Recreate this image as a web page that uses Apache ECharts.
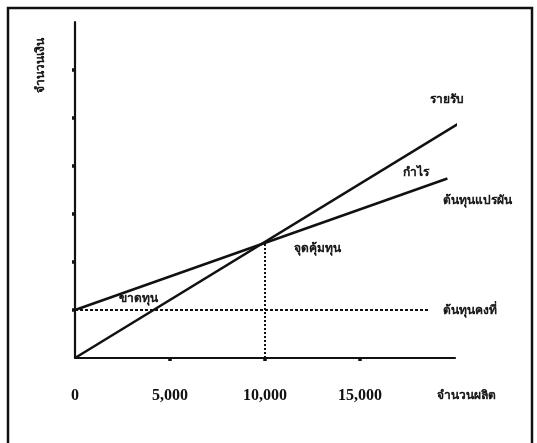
<!DOCTYPE html>
<html>
<head>
<meta charset="utf-8">
<script src="https://cdn.jsdelivr.net/npm/echarts@6/dist/echarts.min.js"></script>
<style>
html,body{margin:0;padding:0;background:#fff;}
#c{width:537px;height:443px;}
</style>
</head>
<body>
<div id="c"></div>
<script>
// Data (units on y: money steps; x: production quantity)
const xTickValues = [0, 5000, 10000, 15000];
const xTickLabels = ['0', '5,000', '10,000', '15,000'];
const yTickValues = [1, 2, 3, 4, 5, 6];
const revenue = [[0, 0], [20250, 4.9]];
const totalCost = [[0, 1], [19600, 3.74]];
const fixedCost = [[0, 1], [18600, 1]];
const breakEven = [[10000, 0], [10000, 2.4]];
const xAxisTitle = 'จำนวนผลิต';
const yAxisTitle = 'จำนวนเงิน';
const labelRevenue = 'รายรับ';
const labelProfit = 'กำไร';
const labelTotalCost = 'ต้นทุนแปรผัน';
const labelBreakEven = 'จุดคุ้มทุน';
const labelLoss = 'ขาดทุน';
const labelFixed = 'ต้นทุนคงที่';

const FONT = '"Liberation Serif", "DejaVu Serif", serif';
const chart = echarts.init(document.getElementById('c'));
const txt = (text, x, y, extra) => Object.assign({
  type: 'text', x: x, y: y,
  style: Object.assign({ text: text, fill: '#111', stroke: '#111', lineWidth: 0.6, font: 'bold 14px ' + FONT, align: 'center', verticalAlign: 'middle' }, extra || {})
});
chart.setOption({
  animation: false,
  backgroundColor: '#fff',
  grid: { left: 75, right: 82, top: 22, bottom: 85 },
  xAxis: {
    type: 'value', min: 0, max: 20000,
    splitLine: { show: false },
    axisLine: { lineStyle: { color: '#111', width: 2.2 } },
    axisTick: { show: true, customValues: [5000, 10000, 15000], length: 3, lineStyle: { color: '#111', width: 3.5 } },
    axisLabel: { customValues: xTickValues, margin: 30, color: '#111', fontFamily: FONT, fontSize: 16, fontWeight: 'bold',
      formatter: v => xTickLabels[xTickValues.indexOf(v)] || '' }
  },
  yAxis: {
    type: 'value', min: 0, max: 7,
    splitLine: { show: false },
    axisLine: { lineStyle: { color: '#111', width: 2.2 } },
    axisTick: { show: true, customValues: yTickValues, length: 3, lineStyle: { color: '#111', width: 3.5 } },
    axisLabel: { show: false }
  },
  series: [
    { type: 'line', data: revenue, symbol: 'none', lineStyle: { color: '#111', width: 2.5 } },
    { type: 'line', data: totalCost, symbol: 'none', lineStyle: { color: '#111', width: 2.5 } },
    { type: 'line', data: fixedCost, symbol: 'none', lineStyle: { color: '#111', width: 2, type: [3, 2] } },
    { type: 'line', data: breakEven, symbol: 'none', lineStyle: { color: '#111', width: 2, type: [2, 2] } }
  ],
  graphic: [
    { type: 'rect', shape: { x: 8, y: 8, width: 524, height: 460 }, style: { fill: 'none', stroke: '#111', lineWidth: 2.5 } },
    txt(yAxisTitle, 41, 65, { font: 'bold 15px ' + FONT }),
    txt(xAxisTitle, 466, 396),
    txt(labelRevenue, 447, 100),
    txt(labelProfit, 416, 173),
    txt(labelTotalCost, 477, 201),
    txt(labelBreakEven, 317, 249),
    txt(labelLoss, 138, 299),
    txt(labelFixed, 470, 311)
  ]
});
// rotate y title
const opt = chart.getOption();
chart.setOption({ graphic: opt.graphic[0].elements.map((e, i) => i === 1 ? { id: e.id, rotation: Math.PI / 2 } : { id: e.id }) });
</script>
</body>
</html>
